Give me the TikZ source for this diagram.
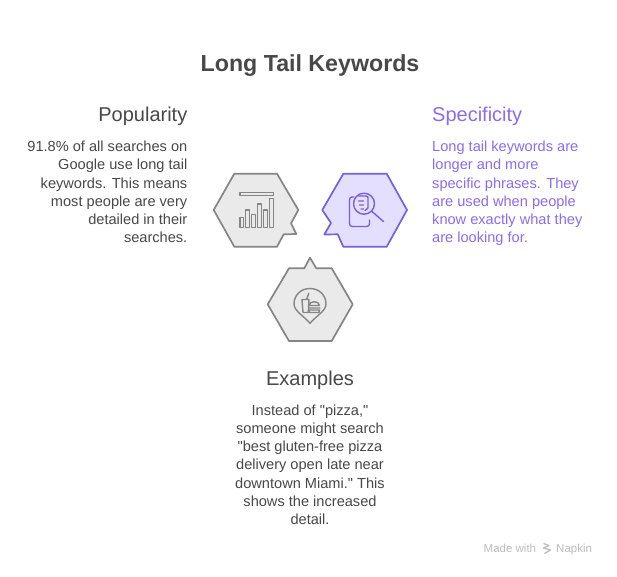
\documentclass[tikz,border=0pt]{standalone}
\usepackage{fontspec}
\setmainfont{Liberation Sans}
\newfontfamily\plainfont{Liberation Sans}
\definecolor{txt}{HTML}{484848}
\definecolor{purp}{HTML}{8B6CF0}
\definecolor{hexg}{HTML}{EAEAEA}
\definecolor{lineg}{HTML}{858585}
\definecolor{hexp}{HTML}{E5DFFF}
\definecolor{linep}{HTML}{7760D8}
\definecolor{brandc}{HTML}{BDBDBD}
\tikzset{
  hexgray/.style={draw=lineg,fill=hexg,line width=1.7pt,line join=round},
  hexpurple/.style={draw=linep,fill=hexp,line width=1.7pt,line join=round},
  icong/.style={draw=lineg,line width=1.4pt,line join=round,line cap=round},
  iconp/.style={draw=linep,line width=1.4pt,line join=round,line cap=round},
  ttl/.style={font=\fontsize{23.2}{28}\selectfont\bfseries,text=txt,inner sep=0pt},
  head/.style={font=\fontsize{20}{24}\selectfont,inner sep=0pt},
  body/.style={font=\plainfont\fontsize{14.6}{18.2}\selectfont,inner sep=0pt},
  brand/.style={font=\fontsize{11.5}{13}\selectfont,text=brandc,inner sep=0pt,anchor=base west}
}
\begin{document}
\begin{tikzpicture}[x=1pt,y=-1pt]
\useasboundingbox (0,0) rectangle (617,576);
\fill[white] (0,0) rectangle (617,576);
\node[ttl] (title) at (310,65.5) {Long Tail Keywords};
\node[head,text=txt,anchor=east] (pophead) at (187.5,116.5) {Popularity};
\node[body,text=txt,anchor=north east,align=right] (popbody) at (187.5,141) {91.8\% of all searches on\\Google use long tail\\keywords. This means\\most people are very\\detailed in their\\searches.};
\node[head,text=purp,anchor=west] (spechead) at (432,116) {Specificity};
\node[body,text=purp,anchor=north west,align=left] (specbody) at (432,141) {Long tail keywords are\\longer and more\\specific phrases. They\\are used when people\\know exactly what they\\are looking for.};
\node[head,text=txt] (exhead) at (310,380.5) {Examples};
\node[body,text=txt,anchor=north,align=center] (exbody) at (310,404.5) {Instead of "pizza,"\\someone might search\\"best gluten-free pizza\\delivery open late near\\downtown Miami." This\\shows the increased\\detail.};
\node[brand] (made) at (483.5,552) {Made with};
\node[brand] (napkin) at (556,552) {Napkin};
\draw[brandc,line width=1.3pt,line join=round] (543.5,543.5)--(549,545.5)--(543.5,548)--(550.5,550)--(544.5,553.5);
% hexagons
\draw[hexgray] (213.7,210)--(234.3,173.7)--(277,173.7)--(298.3,210)--(291,223.3)--(296.3,234)--(283.7,234.3)--(277,246.7)--(234.3,246.7)--cycle;
\draw[hexpurple] (407,210)--(386.7,173.7)--(343.3,173.7)--(322.3,210)--(331,223)--(324.3,234.5)--(337.7,234.3)--(343.3,246.7)--(386.7,246.7)--cycle;
\draw[hexgray] (267.7,304.3)--(289,268.3)--(304.3,268.3)--(310,257.7)--(316.3,268.3)--(331.7,268.3)--(352.7,304.3)--(331.7,341)--(289,341)--cycle;
% bar icon
\draw[icong] (239.8,192.5)rectangle(273.2,195.5);
\draw[icong] (239.8,217.7)rectangle(243.3,227.5) (245.5,210)rectangle(249.2,227.5) (251.5,214.3)rectangle(255.2,227.5) (257.5,204)rectangle(261.2,227.5) (263.5,210)rectangle(267.2,227.5) (269.5,198.3)rectangle(273.2,227.5);
% doc search icon
\draw[iconp] (354,197)--(352,197)..controls(350.5,197)and(349.5,198)..(349.5,200)--(349.5,223.5)..controls(349.5,225.5)and(350.5,226.5)..(352.5,226.5)--(366.5,226.5)..controls(368.5,226.5)and(369.5,225.5)..(369.5,223.5)--(369.5,220);
\draw[iconp] (364,203.7) circle (10.5);
\draw[iconp] (372,211.5)--(383.7,221.7);
\draw[iconp] (358.5,196)--(366,196)..controls(367.5,196)and(368,197)..(368,198)--(368,208)--(365,210.5) (358.5,201)--(363.5,201) (359.5,205)--(363.5,205) (361,209)--(363.5,209);
% food icon
\draw[icong] (310,323.3)..controls(304,316)and(294,311)..(294,304)..controls(294,295)and(301,288.5)..(310,288.5)..controls(319,288.5)and(326,295)..(326,304)..controls(326,311)and(316,316)..(310,323.3)--cycle;
\draw[icong] (302,299.5)--(309,299.5)--(308.3,312.5)--(303,312.5)--cycle (306.7,299)--(308.7,293.3);
\draw[icong] (309,305.5)..controls(309,300.5)and(319.5,300.5)..(319.5,305.5)--cycle (308.5,308)--(320,308) (309,310)--(319.5,310)--(319,312.5)--(309.5,312.5)--cycle;
\end{tikzpicture}
\end{document}
